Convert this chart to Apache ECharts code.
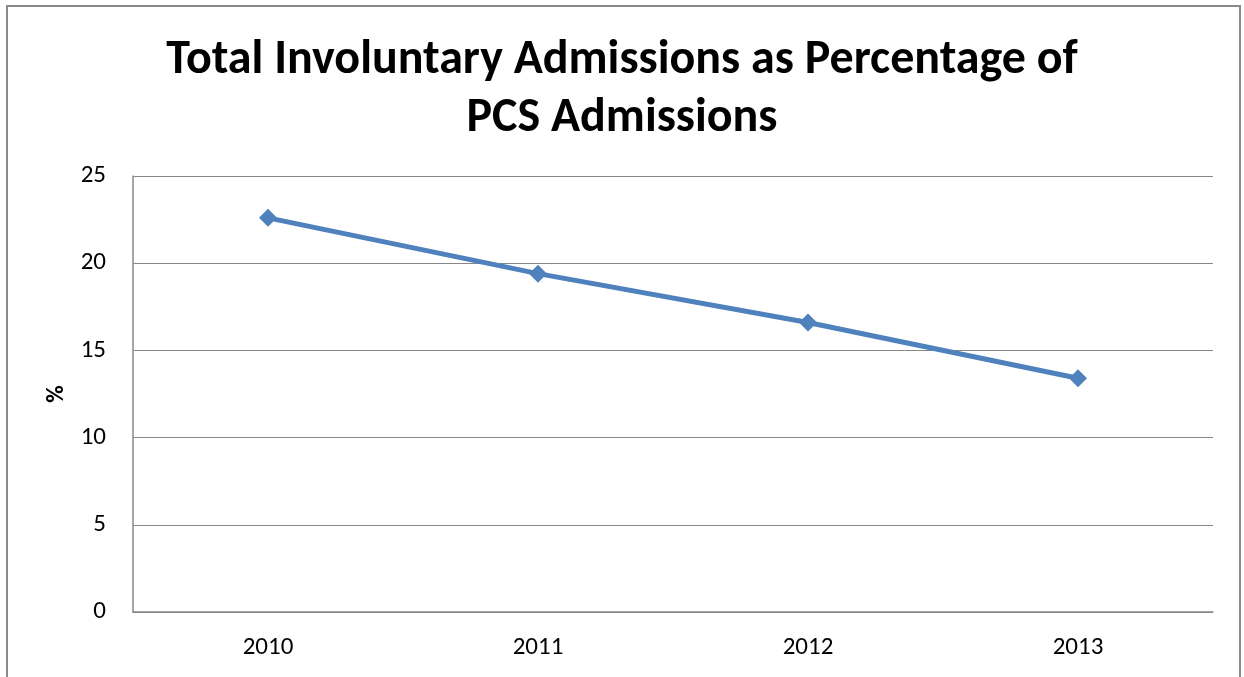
<!DOCTYPE html>
<html>
<head>
<meta charset="utf-8">
<script src="https://cdn.jsdelivr.net/npm/echarts@6/dist/echarts.min.js"></script>
<style>
  html, body { margin: 0; padding: 0; background: #fff; }
  #chart { width: 1244px; height: 677px; }
</style>
</head>
<body>
<div id="chart"></div>
<script>
// data
const years = ['2010', '2011', '2012', '2013']
const involuntaryPct = [22.6, 19.4, 16.6, 13.4]
const yTicks = { min: 0, max: 25, interval: 5 }

const chart = echarts.init(document.getElementById('chart'))
const font = 'Carlito, Lato, "Open Sans", sans-serif'

const option = {
  animation: false,
  title: {
    text: 'Total Involuntary Admissions as Percentage of\nPCS Admissions',
    left: 'center',
    top: 27,
    textStyle: {
      fontFamily: font,
      fontSize: 48,
      fontWeight: 'bold',
      color: '#000',
      lineHeight: 58
    }
  },
  // outer chart-area border (open at the bottom, cropped in the original)
  graphic: [
    {
      type: 'polyline',
      shape: { points: [[7, 690], [7, 6], [1240, 6], [1240, 690]] },
      style: { stroke: '#8a8a8a', lineWidth: 2, fill: null }
    }
  ],
  grid: {
    left: 133,
    right: 31,
    top: 176,
    bottom: 65
  },
  xAxis: {
    type: 'category',
    data: years,
    boundaryGap: true,
    axisLine: { lineStyle: { color: '#888', width: 1.5 } },
    axisTick: { show: false },
    axisLabel: { color: '#000', fontFamily: font, fontSize: 25, margin: 23 }
  },
  yAxis: {
    type: 'value',
    min: yTicks.min,
    max: yTicks.max,
    interval: yTicks.interval,
    name: '%',
    nameLocation: 'middle',
    nameRotate: 90,
    nameGap: 64,
    nameTextStyle: { color: '#000', fontFamily: font, fontSize: 24, fontWeight: 'bold' },
    axisLine: { show: true, lineStyle: { color: '#888', width: 1.5 } },
    axisTick: { show: false },
    splitLine: { lineStyle: { color: '#888', width: 1.2 } },
    axisLabel: { color: '#000', fontFamily: font, fontSize: 25, margin: 27 }
  },
  series: [
    {
      name: 'Involuntary %',
      type: 'line',
      data: involuntaryPct,
      symbol: 'diamond',
      symbolSize: 18,
      lineStyle: { color: '#4F81BD', width: 5 },
      itemStyle: { color: '#4F81BD' }
    }
  ]
}

option && chart.setOption(option)
</script>
</body>
</html>
